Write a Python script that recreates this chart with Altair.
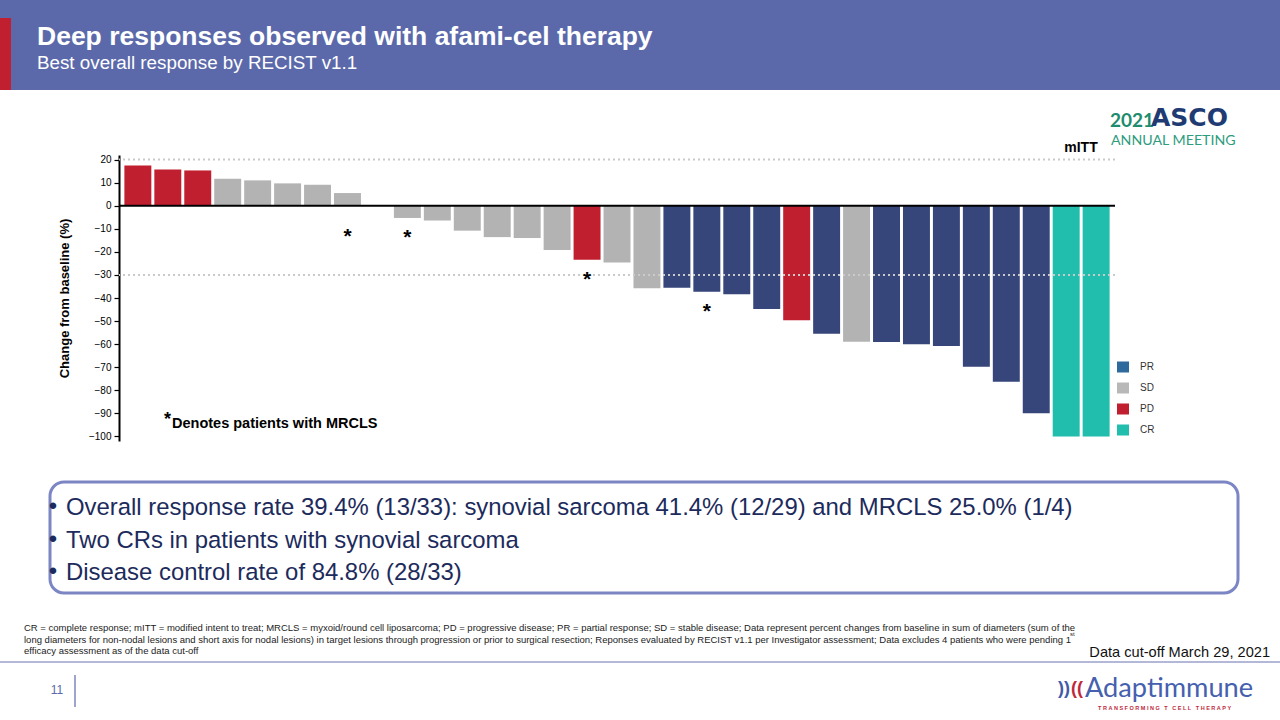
import altair as alt
import pandas as pd

# ---------------- data ----------------
patient = list(range(1, 34))
change = [17.5, 15.7, 15.3, 11.7, 11.0, 9.7, 9.1, 5.5, 0.0, -5.3, -6.4, -10.8,
          -13.6, -14.0, -19.2, -23.4, -24.6, -35.8, -35.6, -37.3, -38.4, -44.8,
          -49.7, -55.5, -59.0, -59.1, -60.1, -60.8, -69.8, -76.3, -90.0, -100.0, -100.0]
response = ["PD", "PD", "PD", "SD", "SD", "SD", "SD", "SD", "SD", "SD", "SD", "SD",
            "SD", "SD", "SD", "PD", "SD", "SD", "PR", "PR", "PR", "PR", "PD", "PR",
            "SD", "PR", "PR", "PR", "PR", "PR", "PR", "CR", "CR"]
mrcls = [0, 0, 0, 0, 0, 0, 0, 1, 0, 1, 0, 0, 0, 0, 0, 1, 0, 0, 0, 1, 0, 0, 0, 0,
         0, 0, 0, 0, 0, 0, 0, 0, 0]
status_domain = ["PR", "SD", "PD", "CR"]
status_bar_colors = ["#36457A", "#B3B3B3", "#C01F2F", "#21BDAD"]
legend_labels = ["PR", "SD", "PD", "CR"]
legend_colors = ["#2E6A9C", "#B8B8B8", "#C01F2F", "#21BDAD"]
ref_lines = [20, -30]
zero_line = [0]
y_ticks = [-100, -90, -80, -70, -60, -50, -40, -30, -20, -10, 0, 10, 20]

title_text = "Deep responses observed with afami-cel therapy"
subtitle_text = "Best overall response by RECIST v1.1"
bullets = [
    "Overall response rate 39.4% (13/33): synovial sarcoma 41.4% (12/29) and MRCLS 25.0% (1/4)",
    "Two CRs in patients with synovial sarcoma",
    "Disease control rate of 84.8% (28/33)",
]
footnotes = [
    "CR = complete response; mITT = modified intent to treat; MRCLS = myxoid/round cell liposarcoma; PD = progressive disease; PR = partial response; SD = stable disease; Data represent percent changes from baseline in sum of diameters (sum of the",
    "long diameters for non-nodal lesions and short axis for nodal lesions) in target lesions through progression or prior to surgical resection; Reponses evaluated by RECIST v1.1 per Investigator assessment; Data excludes 4 patients who were pending 1",
    "efficacy assessment as of the data cut-off",
]
tagline = "TRANSFORMING T CELL THERAPY"

FONT = "Liberation Sans"
PL, PT = 119, 155          # plot origin on the page
W, H = 996, 286

df = pd.DataFrame({"patient": patient, "change": change, "response": response, "mrcls": mrcls})
one = pd.DataFrame({"k": [0]})


def txt(s, x, y, size, color, weight="normal", align="left", font=FONT, baseline="middle"):
    props = dict(align=align, baseline=baseline, fontSize=size, font=font,
                 fontWeight=weight, color=color)
    return alt.Chart(pd.DataFrame({"t": [s]})).mark_text(**props).encode(
        x=alt.value(x - PL), y=alt.value(y - PT), text="t:N")


def box(x1, y1, x2, y2, **kw):
    return alt.Chart(one).mark_rect(**kw).encode(
        x=alt.value(x1 - PL), x2=alt.value(x2 - PL),
        y=alt.value(y1 - PT), y2=alt.value(y2 - PT))


def hline(x1, x2, y, color, width):
    return alt.Chart(one).mark_rule(color=color, strokeWidth=width).encode(
        x=alt.value(x1 - PL), x2=alt.value(x2 - PL), y=alt.value(y - PT))


def vline(x, y1, y2, color, width):
    return alt.Chart(one).mark_rule(color=color, strokeWidth=width).encode(
        x=alt.value(x - PL), y=alt.value(y1 - PT), y2=alt.value(y2 - PT))


x_enc = alt.X("patient:O", scale=alt.Scale(paddingInner=0.1, paddingOuter=0.18), axis=None)
y_scale = alt.Scale(domain=[-102, 22], nice=False, zero=False)
y_axis = alt.Axis(values=y_ticks, tickCount=13, title="Change from baseline (%)", grid=False,
                  labelOverlap=False, labelFont=FONT, labelFontSize=10, labelColor="black",
                  labelPadding=3,
                  labelExpr="replace(datum.label, '-', '\u2212')",
                  tickColor="black", tickSize=5, tickWidth=1.2,
                  domainColor="black", domainWidth=2,
                  titleFont=FONT, titleFontSize=13, titleFontWeight="bold",
                  titleColor="black", titlePadding=17)

bars = alt.Chart(df).mark_bar().encode(
    x=x_enc,
    y=alt.Y("change:Q", scale=y_scale, axis=y_axis),
    color=alt.Color("response:N", scale=alt.Scale(domain=status_domain, range=status_bar_colors),
                    legend=None),
)

refs = alt.Chart(pd.DataFrame({"change": ref_lines})).mark_rule(
    color="#CACACA", strokeWidth=2, strokeDash=[2, 3]).encode(
    y=alt.Y("change:Q", scale=y_scale, axis=y_axis))

zero = alt.Chart(pd.DataFrame({"change": zero_line})).mark_rule(
    color="black", strokeWidth=2).encode(y=alt.Y("change:Q", scale=y_scale, axis=y_axis))

stars = alt.Chart(df).transform_filter("datum.mrcls == 1").transform_calculate(
    change="min(datum.change, -5) - 6").mark_text(
    text="*", fontSize=21, fontWeight="bold", font=FONT, color="black", baseline="middle", dy=6
).encode(x=x_enc, y=alt.Y("change:Q", scale=y_scale, axis=y_axis))

layers = [
    # slide decorations
    box(0, 0, 1280, 90, color="#5B69AA"),
    box(0, 18, 11, 90, color="#C01F2F"),
    txt(title_text, 37, 37, 26.5, "white", weight="bold"),
    txt(subtitle_text, 37, 63, 18.8, "white"),
    bars, refs, zero, stars,
    txt("mITT", 1081, 148, 14, "black", weight="bold", align="center"),
    txt("*", 164, 420, 18, "black", weight="bold"),
    txt("Denotes patients with MRCLS", 172, 424, 14.5, "black", weight="bold"),
]

for i, (lab, col) in enumerate(zip(legend_labels, legend_colors)):
    yy = 367 + 21 * i
    layers.append(box(1117, yy - 5.5, 1129, yy + 5.5, color=col))
    layers.append(txt(lab, 1140, yy, 10, "#333333"))

layers.append(box(50, 482, 1238, 593, filled=False, stroke="#7C86C4", strokeWidth=3, cornerRadius=14))
for i, b in enumerate(bullets):
    yy = 508 + 32.5 * i
    layers.append(txt("\u2022", 53, yy - 1, 24, "#1C2B5C", align="center"))
    layers.append(txt(b, 66, yy, 23.9, "#1C2B5C"))

for i, f in enumerate(footnotes):
    layers.append(txt(f, 24, 628 + 11.5 * i, 9.5, "#222222"))
layers.append(txt("st", 1070, 634, 6, "#222222"))

spaced_tag = "\u00a0\u00a0\u00a0".join("\u00a0".join(w) for w in tagline.split(" "))

layers += [
    txt("Data cut-off March 29, 2021", 1270, 653, 14.6, "#111111", align="right"),
    hline(0, 1280, 662, "#9AA0CC", 1.5),
    txt("11", 57, 690, 12, "#5B69AA", align="center"),
    vline(75, 675, 707, "#5B69AA", 1.2),
    # ASCO logo
    txt("2021", 1110, 127, 19, "#1E8C6E", weight="bold", font="Lato", baseline="alphabetic"),
    txt("ASCO", 1151, 126, 25, "#1F3B73", weight="bold", font="DejaVu Sans", baseline="alphabetic"),
    txt("ANNUAL MEETING", 1111, 145, 14.2, "#2E9C7E", font="Lato", baseline="alphabetic"),
    # Adaptimmune logo
    txt("))", 1058, 689, 18, "#3F5BA9", weight="bold"),
    txt("((", 1071, 689, 18, "#C0283A", weight="bold"),
    txt("Adaptimmune", 1085, 689, 27.2, "#4560AE", font="Lato"),
    txt(spaced_tag, 1098, 708, 5.5, "#C0283A", weight="bold"),
]

chart = alt.layer(*layers).properties(
    width=W, height=H,
    padding={"left": PL, "top": PT, "right": 1280 - PL - W, "bottom": 720 - PT - H},
    autosize=alt.AutoSizeParams(type="none"),
    background="white",
).configure_view(stroke=None)

chart.save("out.html", embed_options={"renderer": "svg", "actions": False})
